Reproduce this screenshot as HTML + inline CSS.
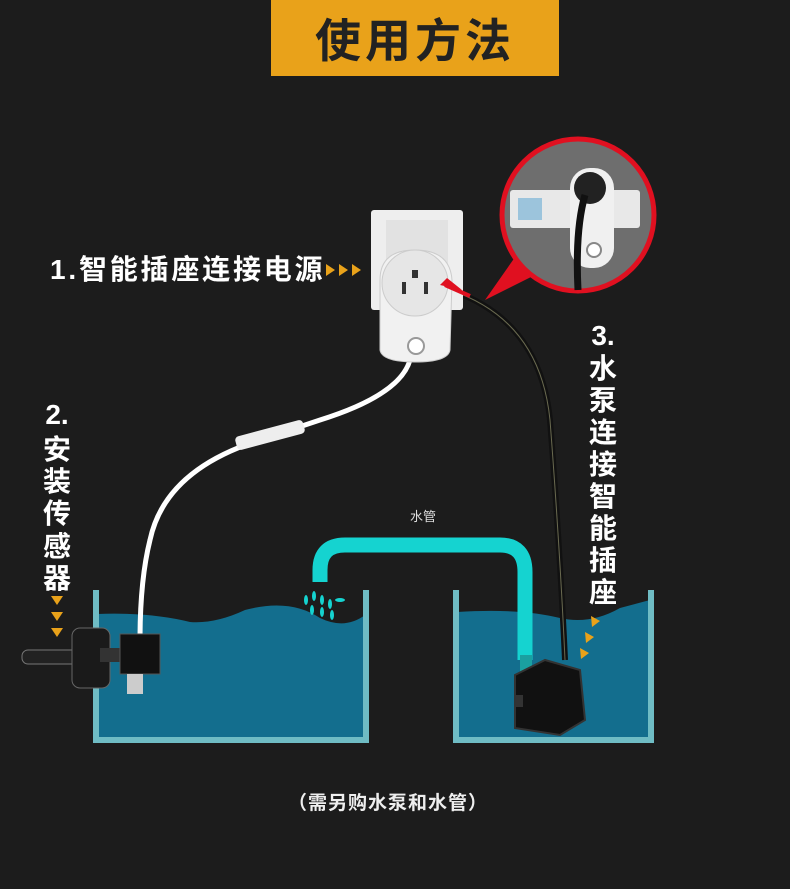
<!DOCTYPE html>
<html><head><meta charset="utf-8"><style>
html,body{margin:0;padding:0;background:#1c1c1c;}
svg{display:block;}
text{font-family:"Liberation Sans","Noto Sans CJK SC",sans-serif;}
</style></head><body>
<svg width="790" height="889" viewBox="0 0 790 889" xmlns="http://www.w3.org/2000/svg">
<rect width="790" height="889" fill="#1c1c1c"/>
<rect x="271" y="0" width="288" height="76" fill="#e9a21a"/>
<text x="415" y="57" font-size="46" font-weight="bold" fill="#222" text-anchor="middle" letter-spacing="4">使用方法</text>

<path d="M97 614 Q150 612 190 622 Q215 624 245 610 Q290 598 320 618 Q345 630 365 615 L365 738 L97 738Z" fill="#136e8e"/>
<path d="M457 612 Q520 608 560 618 Q590 625 620 608 L650 600 L650 738 L457 738Z" fill="#136e8e"/>
<path d="M96 590 V740 H366 V590" fill="none" stroke="#6fbcc4" stroke-width="6"/>
<path d="M456 590 V740 H651 V590" fill="none" stroke="#6fbcc4" stroke-width="6"/>

<path d="M320 582 V570 Q320 545 345 545 H500 Q525 545 525 572 V660" fill="none" stroke="#15d3d0" stroke-width="15"/>
<text x="423" y="521" font-size="13" fill="#ddd" text-anchor="middle">水管</text>
<g fill="#15d3d0">
<ellipse cx="306" cy="600" rx="2" ry="5"/><ellipse cx="314" cy="596" rx="2" ry="5"/><ellipse cx="322" cy="600" rx="2" ry="5"/>
<ellipse cx="330" cy="604" rx="2" ry="5"/><ellipse cx="340" cy="600" rx="5" ry="2"/><ellipse cx="312" cy="610" rx="2" ry="5"/>
<ellipse cx="322" cy="612" rx="2" ry="5"/><ellipse cx="332" cy="615" rx="2" ry="5"/>
</g>

<rect x="520" y="655" width="12" height="20" fill="#1aa0a0"/>
<path d="M515 675 L545 660 L580 670 L585 720 L560 735 L515 728Z" fill="#111" stroke="#333" stroke-width="2"/>
<rect x="515" y="695" width="8" height="12" fill="#333"/>

<path d="M450 290 Q540 320 550 420 Q560 550 565 660" fill="none" stroke="#111" stroke-width="6"/>
<path d="M450 290 Q540 320 550 420 Q560 550 565 660" fill="none" stroke="#6a6a50" stroke-width="1"/>

<path d="M410 360 Q400 395 320 420 L260 440 Q165 470 150 540 Q140 580 140 640" fill="none" stroke="#fff" stroke-width="5"/>
<rect x="235" y="428" width="70" height="14" rx="4" fill="#eee" transform="rotate(-15 270 435)"/>

<rect x="22" y="650" width="60" height="14" rx="6" fill="#222" stroke="#777"/>
<rect x="72" y="628" width="38" height="60" rx="8" fill="#1a1a1a" stroke="#666"/>
<rect x="100" y="648" width="50" height="14" fill="#333"/>
<rect x="120" y="634" width="40" height="40" fill="#111" stroke="#555"/>
<rect x="127" y="674" width="16" height="20" fill="#ccc"/>

<rect x="371" y="210" width="92" height="100" rx="3" fill="#eee"/>
<rect x="386" y="220" width="62" height="50" fill="#e2e2e2"/>
<path d="M380 280 Q380 250 415 250 Q450 250 452 280 L450 350 Q448 362 415 362 Q382 362 380 350Z" fill="#f1f1f1" stroke="#ccc"/>
<circle cx="415" cy="283" r="33" fill="#e6e6e6" stroke="#ccc"/>
<rect x="412" y="270" width="6" height="8" fill="#333"/>
<rect x="402" y="282" width="4" height="12" fill="#333"/><rect x="424" y="282" width="4" height="12" fill="#333"/>
<circle cx="416" cy="346" r="8" fill="#fff" stroke="#999" stroke-width="2"/>
<path d="M462 290 L440 285 L447 278Z" fill="#e01020"/>
<line x1="470" y1="296" x2="445" y2="285" stroke="#e01020" stroke-width="4"/>

<path d="M485 300 L520 250 L545 270Z" fill="#e01020"/>
<circle cx="578" cy="215" r="76" fill="#6e6e6e" stroke="#e01020" stroke-width="5"/>
<rect x="510" y="190" width="130" height="38" rx="3" fill="#e8e8e8"/>
<rect x="518" y="198" width="24" height="22" fill="#9cc4dc"/>
<rect x="570" y="168" width="44" height="100" rx="20" fill="#f0f0f0"/>
<circle cx="590" cy="188" r="16" fill="#222"/>
<circle cx="594" cy="250" r="7" fill="#fff" stroke="#888" stroke-width="2"/>
<path d="M585 195 Q575 230 578 290" fill="none" stroke="#111" stroke-width="7"/>

<text x="50" y="279" font-size="28" font-weight="bold" fill="#fff" letter-spacing="2.8">1.智能插座连接电源</text>
<g fill="#e9a21a"><path d="M326 264 l9 6 l-9 6z"/><path d="M339 264 l9 6 l-9 6z"/><path d="M352 264 l9 6 l-9 6z"/></g>

<g font-size="28" font-weight="bold" fill="#fff" text-anchor="middle">
<text x="57" y="424">2.</text>
<text x="57" y="459">安</text><text x="57" y="491">装</text><text x="57" y="523">传</text><text x="57" y="556">感</text><text x="57" y="588">器</text>
<text x="603" y="345">3.</text>
<text x="603" y="378">水</text><text x="603" y="410">泵</text><text x="603" y="442">连</text><text x="603" y="474">接</text>
<text x="603" y="506">智</text><text x="603" y="538">能</text><text x="603" y="570">插</text><text x="603" y="602">座</text>
</g>
<g fill="#e9a21a"><path d="M51 596 h12 l-6 9z"/><path d="M51 612 h12 l-6 9z"/><path d="M51 628 h12 l-6 9z"/>
<path d="M591 616 l9 5 l-8 6z"/><path d="M585 632 l9 5 l-8 6z"/><path d="M580 648 l9 5 l-8 6z"/></g>

<text x="388" y="809" font-size="19" font-weight="bold" fill="#eee" text-anchor="middle" letter-spacing="1">（需另购水泵和水管）</text>
</svg>
</body></html>
